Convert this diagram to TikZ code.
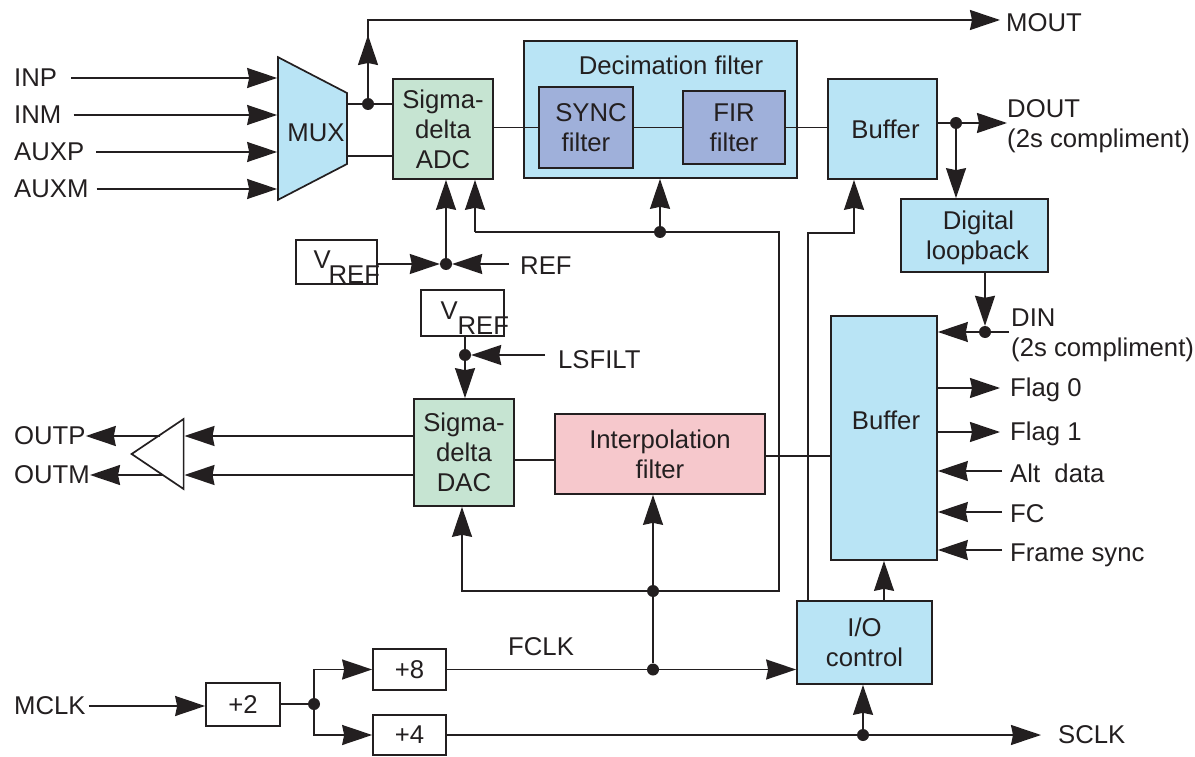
\documentclass[tikz,border=0pt]{standalone}
\usepackage{fontspec}
\setmainfont{Liberation Sans}
\usepackage{tikz}
\usetikzlibrary{shapes.geometric, arrows.meta, positioning}
\definecolor{inkc}{HTML}{231F20}
\definecolor{skyc}{HTML}{B9E4F5}
\definecolor{mintc}{HTML}{C6E4D2}
\definecolor{slatec}{HTML}{9FB0DA}
\definecolor{rosec}{HTML}{F6C8CC}

\begin{document}
\begin{tikzpicture}[x=1pt, y=-1pt, every node/.style={font=\fontsize{25.7}{30}\selectfont, text=inkc, inner sep=0pt}]
    % styles
    \tikzstyle{sky} = [rectangle, draw=inkc, line width=1.7pt, fill=skyc, align=center]
    \tikzstyle{mint} = [rectangle, draw=inkc, line width=1.7pt, fill=mintc, align=center]
    \tikzstyle{slate} = [rectangle, draw=inkc, line width=1.7pt, fill=slatec, align=center]
    \tikzstyle{rose} = [rectangle, draw=inkc, line width=1.7pt, fill=rosec, align=center]
    \tikzstyle{plain} = [rectangle, draw=inkc, line width=1.7pt, fill=white, align=center]
    \tikzstyle{lbl} = [anchor=west, align=left]
    \tikzstyle{jct} = [circle, fill=inkc, minimum size=12pt]
    \tikzstyle{wire} = [line width=1.7pt, draw=inkc]
    \tikzstyle{arrow} = [wire, -{Stealth[length=30pt, width=20pt, inset=2pt]}]
    \useasboundingbox (0,0) rectangle (1195,757);

    % blocks
    \node (mux) [trapezium, trapezium stretches=true, draw=inkc, line width=1.7pt, fill=skyc, shape border rotate=270,
        trapezium left angle=81, trapezium right angle=81, minimum width=143pt, minimum height=69pt] at (312.5,128.5) {\phantom{MUX}};
    \node (muxtext) at (316,133) {MUX};
    \node (adc) [mint, minimum width=100pt, minimum height=100pt] at (443,129) {Sigma-\\delta\\ADC};
    \node (decim) [sky, minimum width=273pt, minimum height=137pt] at (660.5,109.5) {};
    \node (decimtext) at (671,65) {Decimation filter};
    \node (sync) [slate, minimum width=94pt, minimum height=81pt] at (586,127.5) {\hspace*{10pt}SYNC\\filter};
    \node (fir) [slate, minimum width=102pt, minimum height=73pt] at (734,127.5) {FIR\\filter};
    \node (bufa) [sky, minimum width=109pt, minimum height=100pt] at (882.5,129) {\hspace*{6pt}Buffer};
    \node (loop) [sky, minimum width=147pt, minimum height=73pt] at (974.5,235.5) {\rule{0pt}{23pt}\hspace*{8pt}Digital\\\hspace*{6pt}loopback};
    \node (bufb) [sky, minimum width=106pt, minimum height=244pt] at (884,438) {};
    \node (bufbtext) at (886,420) {Buffer};
    \node (io) [sky, minimum width=135pt, minimum height=83pt] at (864.5,642.5) {I/O\\control};
    \node (interp) [rose, minimum width=210pt, minimum height=80pt] at (660,454) {Interpolation\\filter};
    \node (dac) [mint, minimum width=100pt, minimum height=107pt] at (464,452.5) {Sigma-\\delta\\DAC};
    \node (vrefa) [plain, fill=none, minimum width=81pt, minimum height=44pt] at (336.5,262) {\hspace*{-23pt}\rlap{\rule{0pt}{27pt}V\hspace*{-2pt}\raisebox{-15pt}{REF}}\hspace*{23pt}};
    \node (vrefb) [plain, fill=none, minimum width=83pt, minimum height=46pt] at (462.5,313) {\hspace*{-22pt}\rlap{\rule{0pt}{27pt}V\raisebox{-15pt}{REF}}\hspace*{22pt}};
    \node (amp) [isosceles triangle, isosceles triangle stretches=true, draw=inkc, line width=1.7pt, shape border rotate=180,
        minimum width=70pt, minimum height=52pt] at (165,454) {};
    \node (diva) [plain, minimum width=74pt, minimum height=43pt] at (243,704.5) {+2};
    \node (divb) [plain, minimum width=73pt, minimum height=41pt] at (409.5,669.5) {+8};
    \node (divc) [plain, minimum width=73pt, minimum height=40pt] at (409.5,735) {+4};

    % labels
    \node (inp) [lbl] at (14,78) {INP};
    \node (inm) [lbl] at (14,115) {INM};
    \node (auxp) [lbl] at (14,152) {AUXP};
    \node (auxm) [lbl] at (14,189) {AUXM};
    \node (outp) [lbl] at (14,436) {OUTP};
    \node (outm) [lbl] at (14,475) {OUTM};
    \node (mclk) [lbl] at (14,706) {MCLK};
    \node (ref) [lbl] at (520,266) {REF};
    \node (lsfilt) [lbl] at (558,360) {LSFILT};
    \node (fclk) [lbl] at (508,647) {FCLK};
    \node (mout) [lbl] at (1006,23) {MOUT};
    \node (dout) [lbl] at (1007,126) {DOUT\\(2s compliment)};
    \node (din) [lbl] at (1011,335) {DIN\\(2s compliment)};
    \node (flaga) [lbl] at (1010,390) {Flag 0};
    \node (flagb) [lbl] at (1010,434) {Flag 1};
    \node (alt) [lbl] at (1010,473) {Alt\ \ data};
    \node (fc) [lbl] at (1010,514) {FC};
    \node (frame) [lbl] at (1010,555) {Frame sync};
    \node (sclk) [lbl] at (1058,735) {SCLK};

    % junctions
    \node (jmux) [jct] at (368,104) {};
    \node (jref) [jct] at (446,264) {};
    \node (jls) [jct] at (465,355) {};
    \node (jdec) [jct] at (660,232) {};
    \node (jdout) [jct] at (956,123) {};
    \node (jdin) [jct] at (985,332) {};
    \node (jint) [jct] at (653,591) {};
    \node (jfclk) [jct] at (653,669.5) {};
    \node (jclk) [jct] at (314,704) {};
    \node (jsclk) [jct] at (863,735) {};

    % bends
    \coordinate (mhead) at (368,35);
    \coordinate (mtop) at (368,20);
    \coordinate (loopl) at (475,232);
    \coordinate (loopr) at (779,232);
    \coordinate (loopb) at (779,591);
    \coordinate (loopd) at (462,591);
    \coordinate (ioup) at (808,233);
    \coordinate (ioarr) at (854,233);
    \coordinate (muxlow) at (347,156);

    % connectors
    \draw [arrow, shorten <=14pt] (inp.east) -- (inp.east -| mux.west);
    \draw [arrow, shorten <=12pt] (inm.east) -- (inm.east -| mux.west);
    \draw [arrow, shorten <=12pt] (auxp.east) -- (auxp.east -| mux.west);
    \draw [arrow, shorten <=8pt] (auxm.east) -- (auxm.east -| mux.west);
    \draw [wire] (jmux -| mux.east) -- (jmux -| adc.west);
    \draw [wire] (muxlow -| mux.east) -- (muxlow -| adc.west);
    \draw [arrow] (jmux) -- (mhead);
    \draw [arrow, shorten >=6pt] (jmux) -- (mtop) -- (mtop -| mout.west);
    \draw [wire] (adc.east |- sync.west) -- (sync.west);
    \draw [wire] (sync.east) -- (fir.west);
    \draw [wire] (fir.east) -- (fir.east -| bufa.west);
    \draw [wire] (jdout -| bufa.east) -- (jdout);
    \draw [arrow] (jdout) -- (jdout -| dout.west);
    \draw [arrow] (jdout) -- (jdout |- loop.north);
    \draw [arrow] (loop.south -| jdin) -- (jdin);
    \draw [wire, shorten <=2pt] (jdin -| din.west) -- (jdin);
    \draw [arrow] (jdin) -- (jdin -| bufb.east);
    \draw [arrow, shorten >=10pt] (bufb.east |- 0,388) -- (flaga.west |- 0,388);
    \draw [arrow, shorten >=10pt] (bufb.east |- 0,432) -- (flagb.west |- 0,432);
    \draw [arrow, shorten <=8pt] (alt.west) ++(0,-2) -- (bufb.east |- 0,471);
    \draw [arrow, shorten <=8pt] (fc.west) ++(0,-2) -- (bufb.east |- 0,512);
    \draw [arrow, shorten <=8pt] (frame.west) ++(0,-5) -- (bufb.east |- 0,550);
    \draw [arrow] (vrefa.east |- jref) -- (jref);
    \draw [arrow, shorten <=11pt] (jref -| ref.west) -- (jref);
    \draw [arrow] (jref) -- (adc.south -| jref);
    \draw [wire] (jdec) -- (loopl);
    \draw [arrow] (loopl) -- (loopl |- adc.south);
    \draw [arrow] (jdec) -- (jdec |- decim.south);
    \draw [wire] (jdec) -- (loopr) -- (loopb) -- (jint);
    \draw [arrow] (jint) -- (loopd) -- (loopd |- dac.south);
    \draw [arrow] (jint) -- (jint |- interp.south);
    \draw [wire] (jint) -- (jfclk);
    \draw [wire] (vrefb.south -| jls) -- (jls);
    \draw [arrow] (jls) -- (jls |- dac.north);
    \draw [arrow, shorten <=13pt] (jls -| lsfilt.west) -- (jls);
    \draw [wire] (dac.east |- 0,460) -- (interp.west |- 0,460);
    \draw [wire] (interp.east |- 0,456) -- (bufb.west |- 0,456);
    \draw [arrow] (dac.west |- outp) -- (amp.east |- outp);
    \draw [arrow] (dac.west |- outm) -- (amp.east |- outm);
    \draw [arrow, shorten <=24pt] (amp.east |- outp) -- (outp.east);
    \draw [arrow, shorten <=21pt] (amp.east |- outm) -- (outm.east);
    \draw [arrow, shorten <=3pt] (mclk.east) -- (mclk.east -| diva.west);
    \draw [wire] (jclk -| diva.east) -- (jclk);
    \draw [arrow] (jclk) |- (divb.west);
    \draw [arrow] (jclk) |- (divc.west);
    \draw [wire] (divb.east) -- (jfclk);
    \draw [arrow] (jfclk) -- (jfclk -| io.west);
    \draw [arrow, shorten >=17pt] (divc.east) -- (sclk.west);
    \draw [arrow] (jsclk) -- (jsclk |- io.south);
    \draw [arrow] (io.north -| ioup) -- (ioup) -- (ioarr) -- (ioarr |- bufa.south);
    \draw [arrow] (io.north -| bufb.south) -- (bufb.south);
\end{tikzpicture}
\end{document}
